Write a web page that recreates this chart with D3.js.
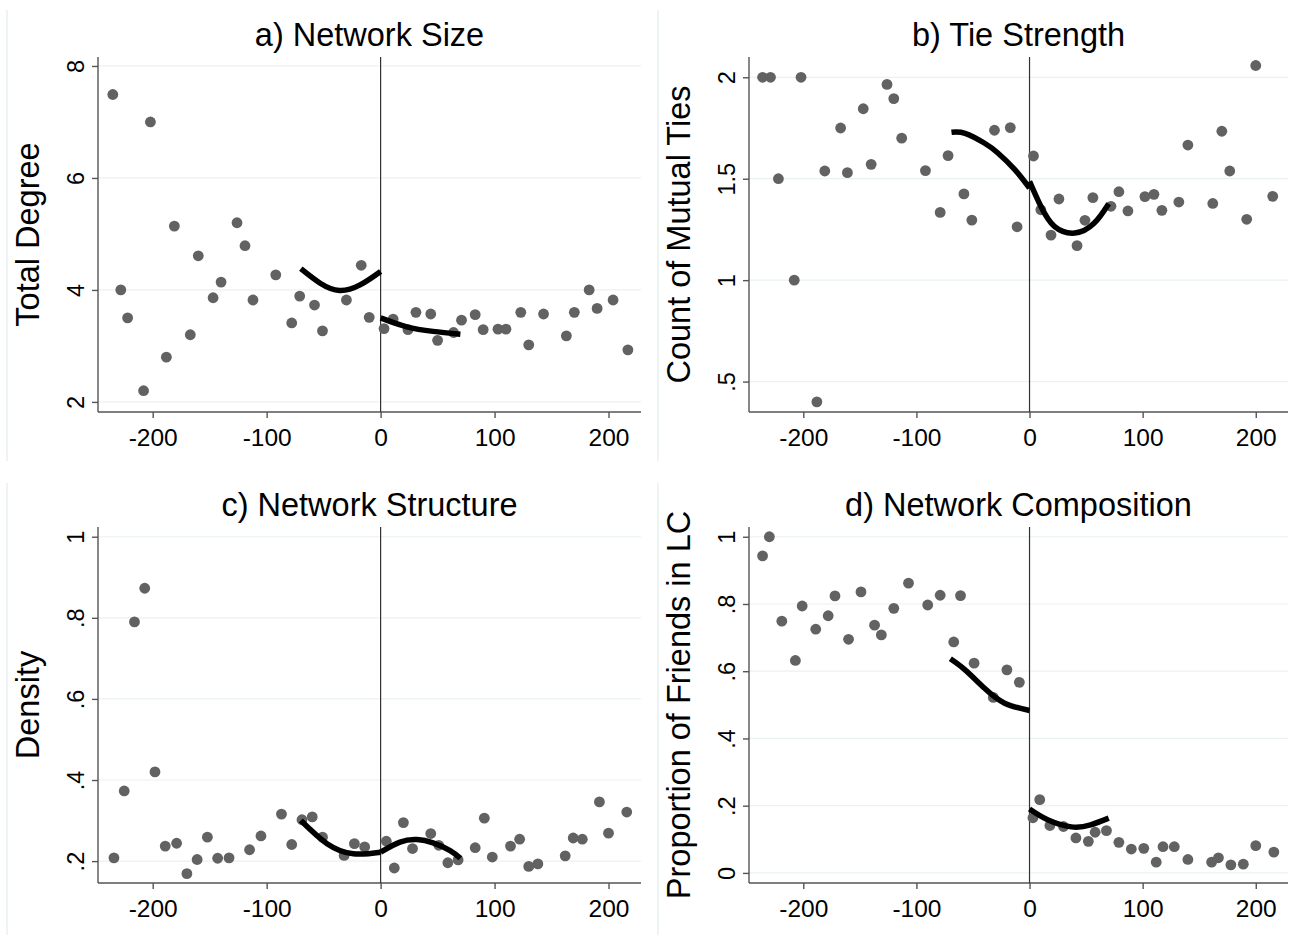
<!DOCTYPE html>
<html>
<head>
<meta charset="utf-8">
<script src="https://cdn.jsdelivr.net/npm/d3@7"></script>
<style>
  html, body { margin: 0; padding: 0; background: #fff; }
  svg { display: block; font-family: "Liberation Sans", Arial, sans-serif; }
</style>
</head>
<body>
<svg id="chart" width="1293" height="935"></svg>
<script>
// ---------- data ----------
const xTicks = [-200, -100, 0, 100, 200];
const xTickLabels = ["-200", "-100", "0", "100", "200"];

// a) Network Size
const aX = [-235,-228,-222,-208,-202,-188,-181,-167,-160,-147,-140,-126,-119,-112,-92,-78,-71,-58,-51,-30,-17,-10,3,11,24,31,44,50,64,71,83,90,103,110,123,130,143,163,170,183,190,204,217];
const aY = [7.49,4.0,3.5,2.2,7.0,2.8,5.14,3.2,4.61,3.86,4.14,5.2,4.79,3.82,4.27,3.41,3.89,3.73,3.27,3.82,4.44,3.51,3.31,3.48,3.29,3.60,3.57,3.10,3.24,3.46,3.56,3.29,3.30,3.30,3.60,3.02,3.57,3.18,3.60,4.0,3.67,3.82,2.93];
const aFitLX = [-70,-53,-36,-18,0];
const aFitLY = [4.38,4.12,3.99,4.09,4.33];
const aFitRX = [0,23,46,70];
const aFitRY = [3.50,3.34,3.26,3.21];
const aYTicks = [2,4,6,8];
const aYTickLabels = ["2","4","6","8"];

// b) Tie Strength
const bX = [-236,-229,-222,-208,-202,-188,-181,-167,-161,-147,-140,-126,-120,-113,-92,-79,-72,-58,-51,-31,-17,-11,3.5,10,19,26,42,49,56,72,79,87,102,110,117,132,140,162,170,177,192,200,215];
const bY = [2.0,2.0,1.5,1.0,2.0,0.40,1.538,1.75,1.53,1.845,1.571,1.965,1.895,1.70,1.54,1.334,1.614,1.425,1.296,1.739,1.752,1.263,1.612,1.347,1.222,1.40,1.17,1.295,1.407,1.364,1.436,1.341,1.412,1.423,1.344,1.385,1.666,1.378,1.734,1.538,1.30,2.058,1.413];
const bFitLX = [-69,-57,-40,-28,-13,0];
const bFitLY = [1.729,1.724,1.676,1.627,1.545,1.454];
const bFitRX = [0,10,22,40,57,70];
const bFitRY = [1.487,1.364,1.265,1.232,1.28,1.377];
const bYTicks = [0.5,1,1.5,2];
const bYTickLabels = [".5","1","1.5","2"];

// c) Network Structure
const cX = [-234,-225,-216,-207,-198,-189,-179,-170,-161,-152,-143,-133,-115,-105,-87,-78,-69,-60,-51,-32,-23,-14,5,12,20,28,44,51,59,68,83,91,98,114,122,130,138,162,169,177,192,200,216];
const cY = [0.208,0.373,0.790,0.873,0.420,0.237,0.244,0.169,0.204,0.259,0.207,0.208,0.228,0.262,0.316,0.241,0.302,0.309,0.259,0.214,0.243,0.235,0.249,0.183,0.295,0.231,0.268,0.239,0.196,0.203,0.233,0.306,0.210,0.237,0.254,0.187,0.193,0.213,0.257,0.254,0.346,0.269,0.321];
const cFitLX = [-70,-47,-24,0];
const cFitLY = [0.300,0.243,0.218,0.222];
const cFitRX = [0,17,32,46,61,70];
const cFitRY = [0.222,0.247,0.253,0.245,0.226,0.207];
const cYTicks = [0.2,0.4,0.6,0.8,1];
const cYTickLabels = [".2",".4",".6",".8","1"];

// d) Network Composition
const dX = [-236,-230,-219,-207,-201,-189,-178,-172,-160,-149,-137,-131,-120,-107,-90,-79,-67,-61,-49,-32,-20,-9,3,9,18,30,41,52,58,68,79,90,101,112,118,128,140,161,167,178,189,200,216];
const dY = [0.943,1.0,0.749,0.632,0.794,0.725,0.765,0.824,0.695,0.836,0.737,0.708,0.787,0.862,0.797,0.826,0.687,0.825,0.624,0.522,0.604,0.567,0.164,0.218,0.141,0.138,0.104,0.094,0.121,0.126,0.091,0.071,0.073,0.032,0.078,0.078,0.040,0.032,0.045,0.024,0.026,0.081,0.062];
const dFitLX = [-70,-57,-40,-22,0];
const dFitLY = [0.637,0.604,0.550,0.505,0.483];
const dFitRX = [0,16,37,54,70];
const dFitRY = [0.190,0.158,0.137,0.143,0.163];
const dYTicks = [0,0.2,0.4,0.6,0.8,1];
const dYTickLabels = ["0",".2",".4",".6",".8","1"];

const titles = ["a) Network Size", "b) Tie Strength", "c) Network Structure", "d) Network Composition"];
const yTitles = ["Total Degree", "Count of Mutual Ties", "Density", "Proportion of Friends in LC"];

// ---------- layout ----------
const xDomain = [-248, 228.5];
const panels = [
  { x: aX, y: aY, fl: [aFitLX, aFitLY], fr: [aFitRX, aFitRY], yd: [1.82, 8.16], yt: aYTicks, ytl: aYTickLabels, box: [98, 641, 57, 412], border: 7 },
  { x: bX, y: bY, fl: [bFitLX, bFitLY], fr: [bFitRX, bFitRY], yd: [0.35, 2.10], yt: bYTicks, ytl: bYTickLabels, box: [749, 1288, 57, 412], border: 658 },
  { x: cX, y: cY, fl: [cFitLX, cFitLY], fr: [cFitRX, cFitRY], yd: [0.146, 1.024], yt: cYTicks, ytl: cYTickLabels, box: [98, 641, 527, 883], border: 7 },
  { x: dX, y: dY, fl: [dFitLX, dFitLY], fr: [dFitRX, dFitRY], yd: [-0.03, 1.029], yt: dYTicks, ytl: dYTickLabels, box: [749, 1288, 527, 883], border: 658 }
];

const svg = d3.select("#chart");
svg.append("rect").attr("width", 1293).attr("height", 935).attr("fill", "#fff");

panels.forEach((p, i) => {
  const [x0, x1, y0, y1] = p.box;
  const xs = d3.scaleLinear().domain(xDomain).range([x0, x1]);
  const ys = d3.scaleLinear().domain(p.yd).range([y1, y0]);
  const g = svg.append("g");

  // faint panel edge
  const top = i < 2 ? 10 : 483;
  const bot = i < 2 ? 461 : 935;
  g.append("line").attr("x1", p.border).attr("x2", p.border).attr("y1", top).attr("y2", bot)
    .attr("stroke", "#eef3f3").attr("stroke-width", 2);

  // gridlines
  g.selectAll(".grid").data(p.yt).enter().append("line")
    .attr("x1", x0).attr("x2", x1)
    .attr("y1", d => ys(d)).attr("y2", d => ys(d))
    .attr("stroke", "#eaf2f3").attr("stroke-width", 1.2);

  // y axis
  const yAxis = d3.axisLeft(ys).tickValues(p.yt).tickFormat((d, k) => p.ytl[k]).tickSize(6).tickSizeOuter(0);
  const ya = g.append("g").attr("transform", `translate(${x0},0)`).call(yAxis);
  ya.select(".domain").attr("d", `M0,${y0}V${y1}`).attr("stroke", "#555").attr("stroke-width", 1.4);
  ya.selectAll(".tick line").attr("stroke", "#555").attr("stroke-width", 1.4);
  ya.selectAll(".tick text")
    .attr("x", null).attr("dy", null)
    .attr("transform", "translate(-14,0) rotate(-90)")
    .attr("text-anchor", "middle")
    .attr("font-size", 23.5).attr("fill", "#000")
    .attr("font-family", "Liberation Sans, Arial, sans-serif");

  // x axis
  const xAxis = d3.axisBottom(xs).tickValues(xTicks).tickFormat((d, k) => xTickLabels[k]).tickSize(6).tickSizeOuter(0);
  const xa = g.append("g").attr("transform", `translate(0,${y1})`).call(xAxis);
  xa.select(".domain").attr("d", `M${x0},0H${x1}`).attr("stroke", "#555").attr("stroke-width", 1.4);
  xa.selectAll(".tick line").attr("stroke", "#555").attr("stroke-width", 1.4);
  xa.selectAll(".tick text")
    .attr("y", 34).attr("dy", null)
    .attr("font-size", 24.5).attr("fill", "#000")
    .attr("font-family", "Liberation Sans, Arial, sans-serif");

  // vertical cutoff line
  g.append("line").attr("x1", xs(0)).attr("x2", xs(0)).attr("y1", y0).attr("y2", y1)
    .attr("stroke", "#333").attr("stroke-width", 1.2);

  // points
  g.selectAll(".pt").data(p.x.map((v, k) => [v, p.y[k]])).enter().append("circle")
    .attr("cx", d => xs(d[0])).attr("cy", d => ys(d[1])).attr("r", 5.4)
    .attr("fill", "#626262");

  // fit lines
  const line = d3.line().x(d => xs(d[0])).y(d => ys(d[1])).curve(d3.curveNatural);
  [p.fl, p.fr].forEach(f => {
    g.append("path").datum(f[0].map((v, k) => [v, f[1][k]]))
      .attr("d", line).attr("fill", "none").attr("stroke", "#000").attr("stroke-width", 5.5);
  });

  // titles
  g.append("text").attr("x", (x0 + x1) / 2).attr("y", y0 - 11)
    .attr("text-anchor", "middle").attr("font-size", 32.5).attr("fill", "#000")
    .text(titles[i]);
  g.append("text")
    .attr("transform", `translate(${x0 - 59},${(y0 + y1) / 2}) rotate(-90)`)
    .attr("text-anchor", "middle").attr("font-size", 32.5).attr("fill", "#000")
    .text(yTitles[i]);
});
</script>
</body>
</html>
